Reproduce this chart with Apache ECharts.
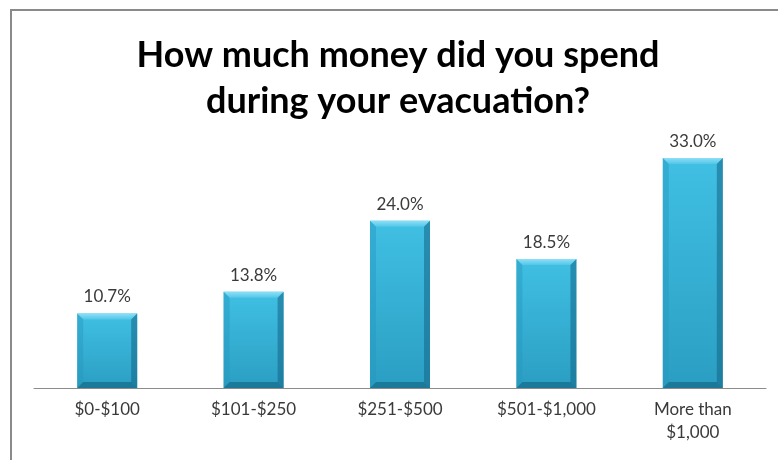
<!DOCTYPE html>
<html>
<head>
<meta charset="utf-8">
<script src="https://cdn.jsdelivr.net/npm/echarts@6/dist/echarts.min.js"></script>
<style>
  html, body { margin: 0; padding: 0; background: #fff; }
  #chart { width: 778px; height: 460px; }
</style>
</head>
<body>
<div id="chart"></div>
<script>
// Survey: money spent during evacuation (share of respondents, %)
const titleText = 'How much money did you spend\nduring your evacuation?';
const categories = ['$0-$100', '$101-$250', '$251-$500', '$501-$1,000', 'More than\n$1,000'];
const shares = [10.7, 13.8, 24.0, 18.5, 33.0];

const FONT = 'Lato, "Open Sans", sans-serif';
const BAR_RATIO = 0.41;

const chart = echarts.init(document.getElementById('chart'), null, { renderer: 'canvas' });

// Bevelled edges drawn over each bar
function bevelItem(params, api) {
  const idx = api.value(0);
  const val = api.value(1);
  const base = api.coord([idx, 0]);
  const top = api.coord([idx, val]);
  const w = api.size([1, 0])[0] * BAR_RATIO;
  const x0 = base[0] - w / 2, x1 = base[0] + w / 2;
  const yT = top[1], yB = base[1], b = 6;
  return {
    type: 'group',
    children: [
      { type: 'polygon', shape: { points: [[x0, yT], [x1, yT], [x1 - b, yT + b], [x0 + b, yT + b]] },
        style: { fill: new echarts.graphic.LinearGradient(0, 0, 0, 1, [
          { offset: 0, color: '#8ee0f6' }, { offset: 1, color: '#52c6e8' }]) } },
      { type: 'polygon', shape: { points: [[x0, yT], [x0 + b, yT + b], [x0 + b, yB - b], [x0, yB]] },
        style: { fill: 'rgba(40,150,190,0.45)' } },
      { type: 'polygon', shape: { points: [[x1, yT], [x1, yB], [x1 - b, yB - b], [x1 - b, yT + b]] },
        style: { fill: 'rgba(20,100,135,0.55)' } },
      { type: 'polygon', shape: { points: [[x0, yB], [x1, yB], [x1 - b, yB - b], [x0 + b, yB - b]] },
        style: { fill: 'rgba(15,90,120,0.55)' } }
    ]
  };
}

chart.setOption({
  animation: false,
  backgroundColor: '#ffffff',
  title: {
    text: titleText,
    left: 393,
    top: 27,
    textAlign: 'center',
    textStyle: { fontFamily: FONT, fontWeight: 'bold', fontSize: 36, color: '#000', lineHeight: 46 }
  },
  graphic: [{
    type: 'polyline',
    shape: { points: [[11, 460], [11, 10], [778, 10]] },
    style: { stroke: '#8a8a8a', lineWidth: 2, fill: null },
    silent: true
  }],
  grid: { left: 34, right: 12, top: 144, bottom: 72 },
  xAxis: {
    type: 'category',
    data: categories,
    axisLine: { lineStyle: { color: '#8c8c8c', width: 1 } },
    axisTick: { show: false },
    axisLabel: { fontFamily: FONT, fontSize: 17, color: '#3a3a3a', margin: 10, lineHeight: 23, interval: 0 }
  },
  yAxis: {
    type: 'value', min: 0, max: 35,
    show: false,
    splitLine: { show: false }
  },
  series: [
    {
      type: 'bar',
      data: shares,
      barWidth: (BAR_RATIO * 100) + '%',
      itemStyle: {
        color: new echarts.graphic.LinearGradient(0, 0, 0, 1, [
          { offset: 0, color: '#40c0e4' },
          { offset: 1, color: '#2a9ec2' }
        ])
      },
      label: {
        show: true,
        position: 'top',
        distance: 8,
        fontFamily: FONT, fontSize: 17, color: '#3a3a3a',
        formatter: p => p.value.toFixed(1) + '%'
      }
    },
    {
      type: 'custom',
      renderItem: bevelItem,
      data: shares.map((v, i) => [i, v]),
      z: 3,
      silent: true
    }
  ]
});
</script>
</body>
</html>
